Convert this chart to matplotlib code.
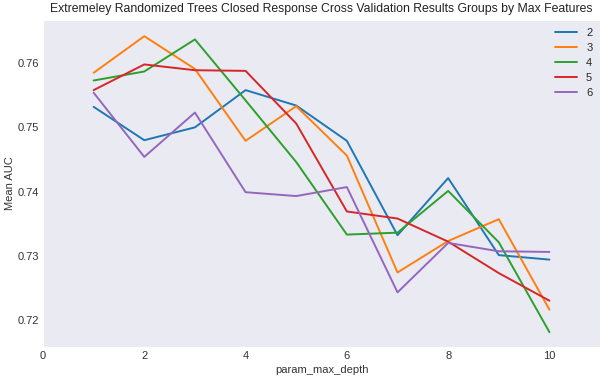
import matplotlib
matplotlib.use("Agg")
import matplotlib.pyplot as plt
import seaborn as sns

sns.set_style("dark")
plt.rcParams['font.family'] = ['Liberation Sans', 'DejaVu Sans']

depths = [1, 2, 3, 4, 5, 6, 7, 8, 9, 10]
labels = ["2", "3", "4", "5", "6"]
s2 = [0.7532, 0.7480, 0.7500, 0.7558, 0.7534, 0.7479, 0.7332, 0.7421, 0.7301, 0.7294]
s3 = [0.7585, 0.7642, 0.7591, 0.7479, 0.7533, 0.7456, 0.7274, 0.7323, 0.7357, 0.7216]
s4 = [0.7573, 0.7587, 0.7637, 0.7542, 0.7446, 0.7333, 0.7336, 0.7401, 0.7321, 0.7181]
s5 = [0.7558, 0.7598, 0.7589, 0.7588, 0.7506, 0.7369, 0.7358, 0.7322, 0.7273, 0.7230]
s6 = [0.7554, 0.7454, 0.7523, 0.7399, 0.7393, 0.7407, 0.7243, 0.7320, 0.7307, 0.7306]
series = [s2, s3, s4, s5, s6]
colors = ["#1f77b4", "#ff7f0e", "#2ca02c", "#d62728", "#9467bd"]

fig = plt.figure(figsize=(6.08, 3.8), dpi=100)
ax = fig.add_axes([0.0707, 0.087, 0.9163, 0.860])
for lab, ys, c in zip(labels, series, colors):
    ax.plot(depths, ys, color=c, lw=1.4, label=lab)

ax.set_xlim(0, 11)
ax.set_ylim(0.7158, 0.7667)
ax.set_xticks([0, 2, 4, 6, 8, 10])
ax.set_yticks([0.72, 0.73, 0.74, 0.75, 0.76])
ax.set_yticklabels(["0.72", "0.73", "0.74", "0.75", "0.76"])
ax.tick_params(labelsize=8, colors="#333333", length=0, pad=3)
ax.set_xlabel("param_max_depth", fontsize=8, color="#333333", labelpad=3)
ax.set_ylabel("Mean AUC", fontsize=8, color="#333333", labelpad=2)
ax.set_title("Extremeley Randomized Trees Closed Response Cross Validation Results Groups by Max Features",
             fontsize=8.8, color="#222222", pad=6)
leg = ax.legend(loc="upper right", frameon=False, fontsize=8, labelspacing=0.45,
                borderaxespad=0.3)
fig.savefig("out.png", dpi=100)
